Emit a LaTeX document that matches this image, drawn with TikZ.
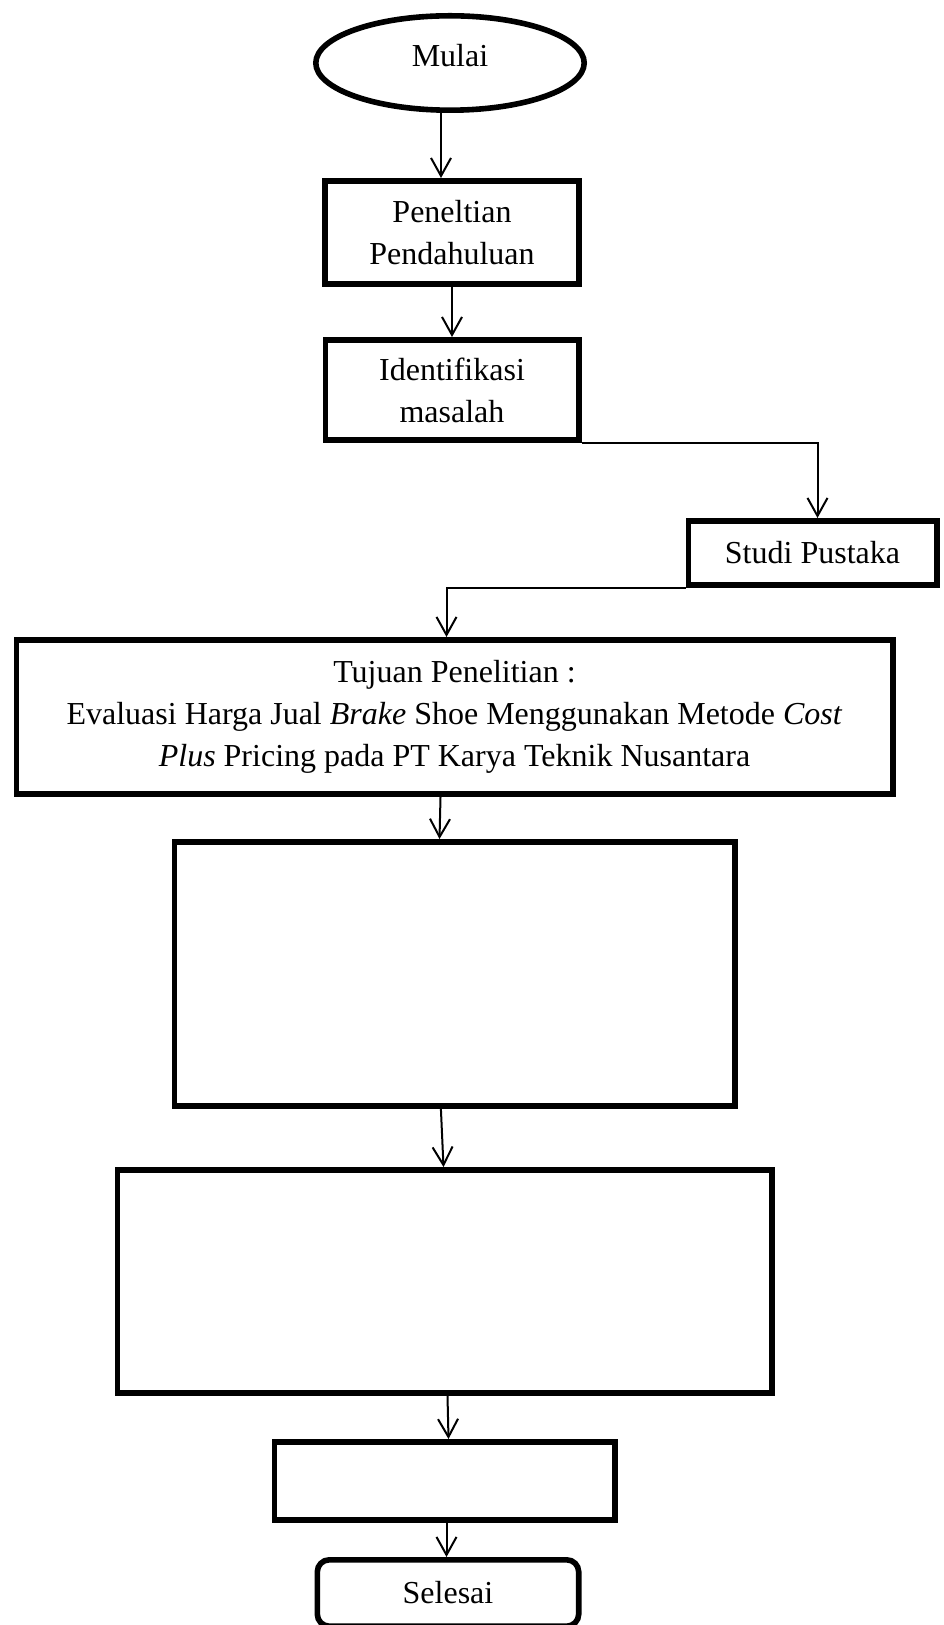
\documentclass[tikz,border=0pt]{standalone}
\usepackage{fontspec}
\setmainfont{Liberation Serif}
\usetikzlibrary{positioning, arrows.meta, shapes.geometric}

\begin{document}
\begin{tikzpicture}[
  kotak/.style={
    rectangle, draw, line width=2.8pt,
    font=\fontsize{16}{21}\selectfont,
    align=center, inner sep=0pt
  },
  terminal/.style={
    ellipse, draw, line width=2.8pt,
    font=\fontsize{16}{21}\selectfont,
    inner sep=0pt
  },
  panah/.style={
    -{Straight Barb[length=9pt,width=10pt]}, line width=1pt
  }
]
\useasboundingbox (0,0) rectangle (471.5pt,-812.5pt);

\node[terminal, minimum width=134.2pt, minimum height=47.2pt] (mulai) at (225pt,-31.5pt) {\raisebox{-1.8pt}[0pt][0pt]{Mulai}};
\node[kotak, minimum width=127.2pt, minimum height=51.7pt, below=32.5pt of mulai, xshift=1pt] (pendahuluan) {Peneltian\\Pendahuluan};
\node[kotak, minimum width=126.7pt, minimum height=50.2pt, below=25pt of pendahuluan] (identifikasi) {Identifikasi\\masalah};
\node[kotak, minimum width=124.2pt, minimum height=32.2pt, below right=37.5pt and 52pt of identifikasi] (studi) {Studi Pustaka};
\node[kotak, minimum width=438.2pt, minimum height=77.2pt, below=97pt of identifikasi, xshift=1.25pt] (tujuan) {Tujuan Penelitian :\\Evaluasi Harga Jual \textit{Brake} Shoe Menggunakan Metode \textit{Cost}\\\textit{Plus} Pricing pada PT Karya Teknik Nusantara};
\node[kotak, minimum width=280.2pt, minimum height=132.2pt, below=21pt of tujuan] (tahap4) {};
\node[kotak, minimum width=327.2pt, minimum height=111.7pt, below=29pt of tahap4, xshift=-5pt] (tahap5) {};
\node[kotak, minimum width=170.2pt, minimum height=39.2pt, below=21.5pt of tahap5] (tahap6) {};
\node[kotak, rounded corners=6pt, minimum width=130.7pt, minimum height=33.2pt, below=17pt of tahap6, xshift=1.75pt] (selesai) {Selesai};

\draw[panah] ([xshift=-4.5pt]mulai.south) -- ([xshift=-5.5pt]pendahuluan.north);
\draw[panah] (pendahuluan.south) -- (identifikasi.north);
\draw[panah] (identifikasi.south east) -| ([xshift=2.5pt]studi.north);
\draw[panah] (studi.south west) -| ([xshift=-4pt]tujuan.north);
\draw[panah] ([xshift=-7pt]tujuan.south) -- ([xshift=-7.5pt]tahap4.north);
\draw[panah] ([xshift=-6.8pt]tahap4.south) -- ([xshift=-0.5pt]tahap5.north);
\draw[panah] ([xshift=1.5pt]tahap5.south) -- ([xshift=2pt]tahap6.north);
\draw[panah] ([xshift=1pt]tahap6.south) -- ([xshift=-0.75pt]selesai.north);
\end{tikzpicture}
\end{document}
